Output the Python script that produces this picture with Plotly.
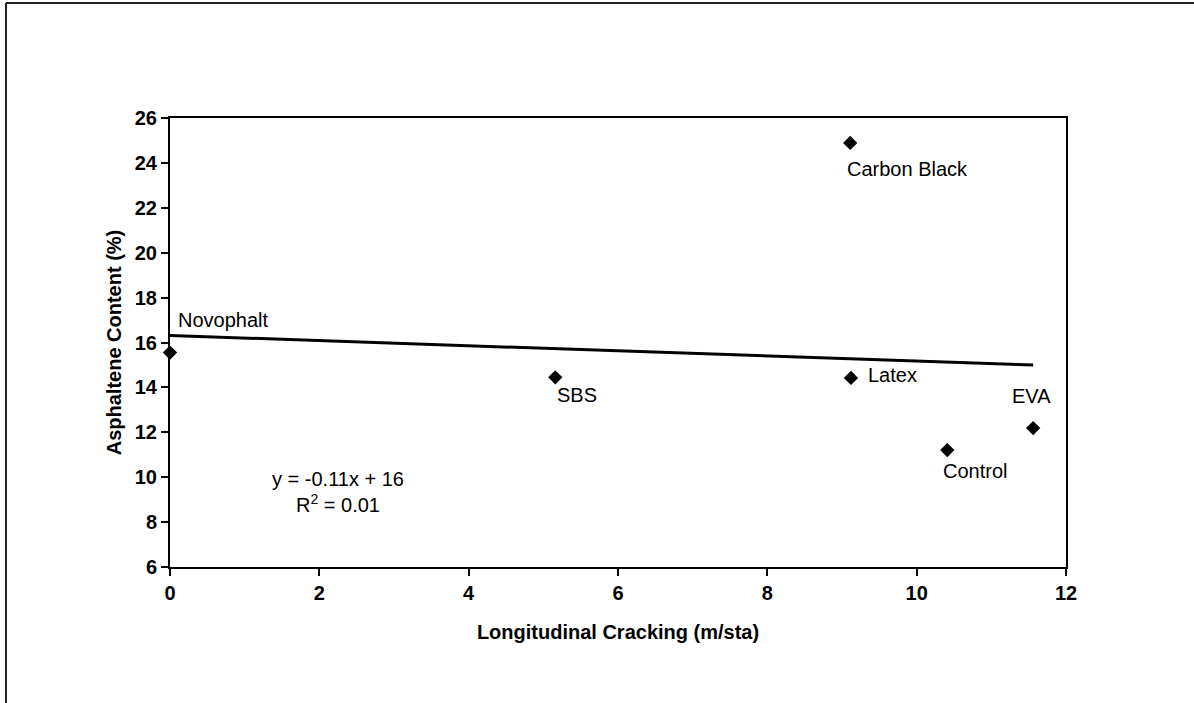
import numpy as np
import plotly.graph_objects as go

# ---- data ----
binders = ["Novophalt", "SBS", "Carbon Black", "Latex", "Control", "EVA"]
cracking = [0.0, 5.16, 9.11, 9.12, 10.41, 11.56]          # m/sta
asphaltene = [15.55, 14.45, 24.89, 14.42, 11.21, 12.19]   # %

x_ticks = [0, 2, 4, 6, 8, 10, 12]
y_ticks = [6, 8, 10, 12, 14, 16, 18, 20, 22, 24, 26]
equation_text = "y = -0.11x + 16"
r2_text = "R<sup>2</sup> = 0.01"
x_title = "Longitudinal Cracking (m/sta)"
y_title = "Asphaltene Content (%)"

# label offsets (pixels) relative to each point: (xanchor, xshift, yshift)
label_pos = {
    "Novophalt": ("left", 6, 33),
    "SBS": ("left", 0, -18),
    "Carbon Black": ("left", -5, -26),
    "Latex": ("left", 15, 3),
    "Control": ("center", 28, -21),
    "EVA": ("center", -2, 32),
}

# linear trend line (least squares)
slope, intercept = np.polyfit(cracking, asphaltene, 1)
tx = np.array([min(cracking), max(cracking)])
ty = slope * tx + intercept

FONT = "Liberation Sans, Arial, sans-serif"

fig = go.Figure()
fig.add_trace(go.Scatter(
    x=tx, y=ty, mode="lines",
    line=dict(color="black", width=3),
    hoverinfo="skip", showlegend=False,
))
fig.add_trace(go.Scatter(
    x=cracking, y=asphaltene, mode="markers",
    marker=dict(symbol="diamond", size=11, color="black"),
    cliponaxis=False, showlegend=False,
))

for name, xv, yv in zip(binders, cracking, asphaltene):
    anchor, dx, dy = label_pos[name]
    fig.add_annotation(
        x=xv, y=yv, xref="x", yref="y", text=name, showarrow=False,
        xanchor=anchor, yanchor="middle", xshift=dx, yshift=dy,
        font=dict(family=FONT, size=20, color="black"),
    )

fig.add_annotation(
    x=2.25, y=9.35, xref="x", yref="y",
    text=equation_text + "<br>" + r2_text, showarrow=False,
    xanchor="center", yanchor="middle", align="center",
    font=dict(family=FONT, size=20, color="black"),
)

W, H = 1194, 703
L, R, T, B = 170, 128, 118, 136
pw, ph = W - L - R, H - T - B

def px_x(p):
    return (p - L) / pw

def px_y(p):
    return (H - B - p) / ph

# outer chart frame (left and top edges visible)
fig.add_shape(type="line", xref="paper", yref="paper",
              x0=px_x(6), x1=px_x(6), y0=px_y(3), y1=px_y(720),
              line=dict(color="#222", width=2))
fig.add_shape(type="line", xref="paper", yref="paper",
              x0=px_x(6), x1=px_x(1220), y0=px_y(3), y1=px_y(3),
              line=dict(color="#222", width=2))

fig.update_layout(
    width=W, height=H,
    margin=dict(l=L, r=R, t=T, b=B),
    paper_bgcolor="white", plot_bgcolor="white",
    font=dict(family=FONT, size=20, color="black"),
    showlegend=False,
)
fig.update_xaxes(
    range=[0, 12], tickvals=x_ticks, ticktext=[str(v) for v in x_ticks],
    showgrid=False, zeroline=False,
    showline=True, linecolor="black", linewidth=2, mirror=True,
    ticks="outside", ticklen=7, tickwidth=1.5, tickcolor="black",
    tickfont=dict(family=FONT, size=20, color="black", weight="bold"),
    title=dict(text="<b>" + x_title + "</b>", standoff=22,
               font=dict(family=FONT, size=20, color="black")),
)
fig.update_yaxes(
    range=[6, 26], tickvals=y_ticks, ticktext=[str(v) for v in y_ticks],
    showgrid=False, zeroline=False,
    showline=True, linecolor="black", linewidth=2, mirror=True,
    ticks="outside", ticklen=7, tickwidth=1.5, tickcolor="black",
    tickfont=dict(family=FONT, size=20, color="black", weight="bold"),
    title=dict(text="<b>" + y_title + "</b>", standoff=8,
               font=dict(family=FONT, size=20, color="black")),
)

fig.write_html("out.html")
